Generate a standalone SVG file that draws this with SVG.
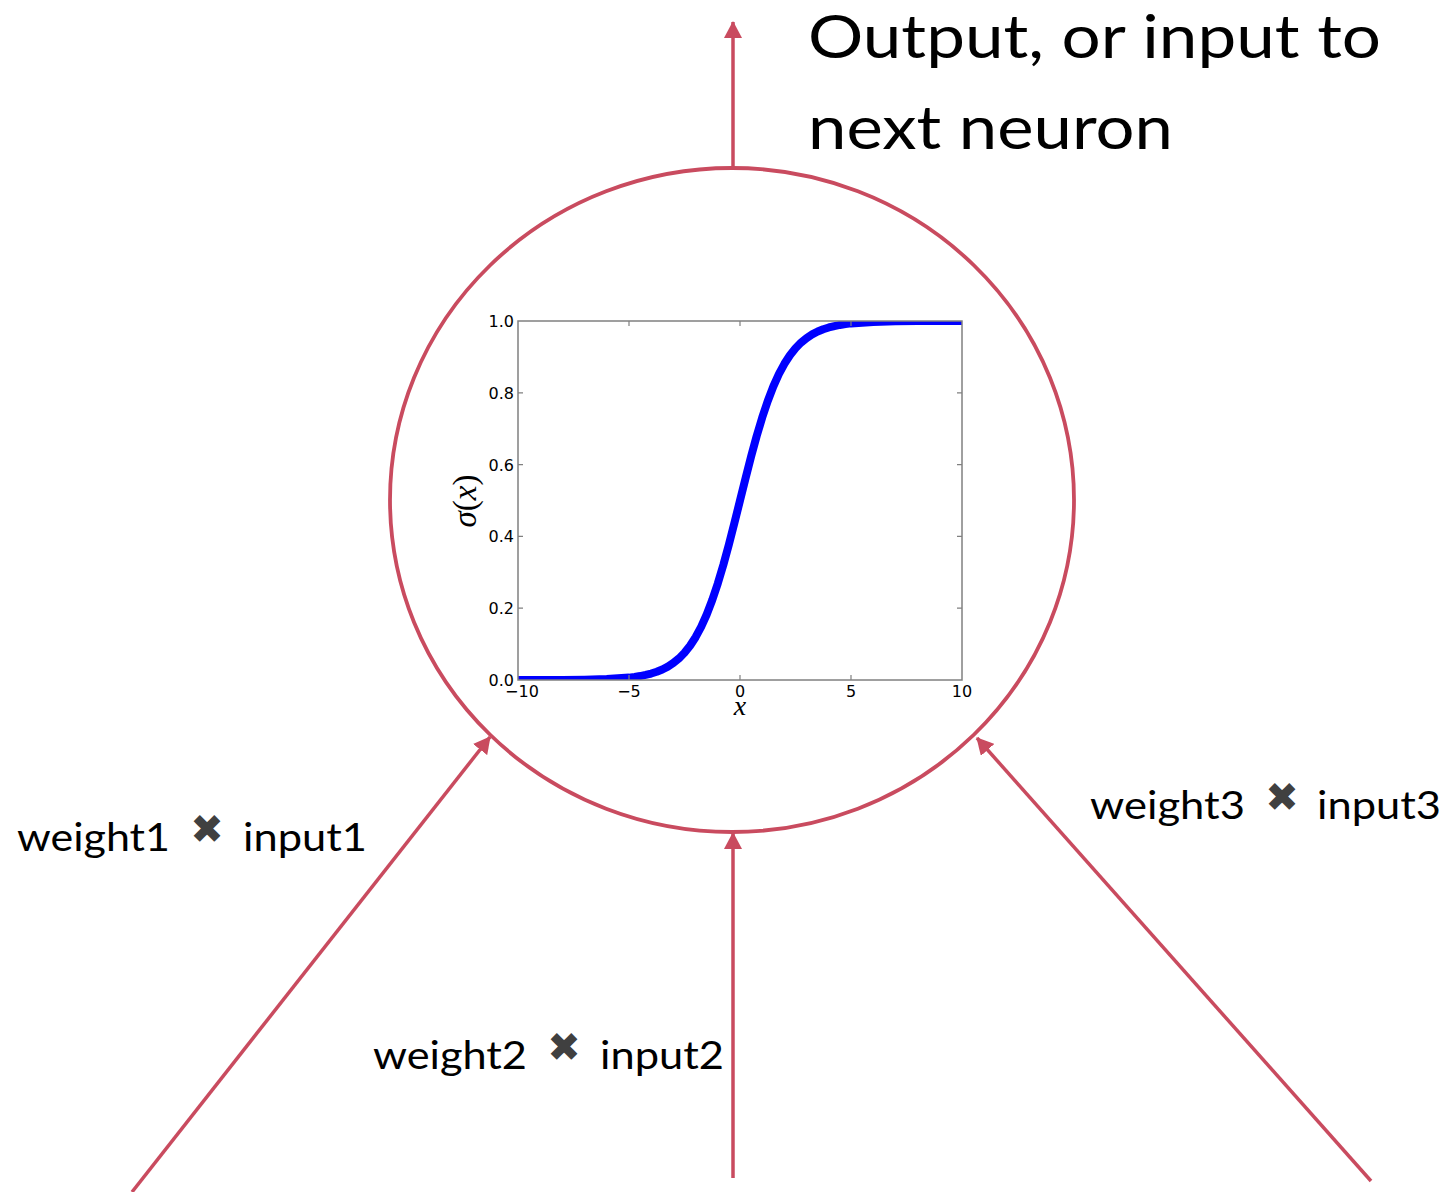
<svg xmlns="http://www.w3.org/2000/svg" width="1451" height="1192" viewBox="0 0 1451 1192">
<style>
.conn{stroke:#C94B5F;stroke-width:3.5;fill:none}
.lbl{font-family:Lato,"Open Sans",sans-serif;fill:#000}
.mul{font-family:"DejaVu Sans",sans-serif;fill:#404040}
.tick{font-family:"DejaVu Sans",sans-serif;font-size:16px;fill:#000}
.math{font-family:"Liberation Serif",serif;fill:#000}
.tk{stroke:#808080;stroke-width:1.2}
</style>
<defs>
<marker id="ah" markerWidth="18" markerHeight="18" refX="16" refY="9" orient="auto" markerUnits="userSpaceOnUse">
<path d="M0,0 L17,9 L0,18 Z" fill="#C94B5F"/>
</marker>
<clipPath id="pc"><rect x="518" y="321" width="444" height="359"/></clipPath>
</defs>
<rect width="1451" height="1192" fill="#fff"/>
<g id="connectors">
<line class="conn" x1="733" y1="168" x2="733" y2="22" marker-end="url(#ah)"/>
<line class="conn" x1="132" y1="1192" x2="490" y2="737" marker-end="url(#ah)"/>
<line class="conn" x1="733" y1="1178" x2="733" y2="833" marker-end="url(#ah)"/>
<line class="conn" x1="1371" y1="1181" x2="977" y2="738" marker-end="url(#ah)"/>
</g>
<g id="neuron">
<ellipse cx="732" cy="500" rx="342" ry="332" fill="none" stroke="#C94B5F" stroke-width="3.8"/>
<g id="plot">
<rect x="518" y="321" width="444" height="359" fill="#fff"/>
<polyline clip-path="url(#pc)" fill="none" stroke="#0000FF" stroke-width="8" stroke-linejoin="round" points="518,679.98 562.4,679.88 584.6,679.67 606.8,679.11 629,677.6 634.55,676.92 640.1,676.06 645.65,674.95 651.2,673.54 656.75,671.75 662.3,669.48 667.85,666.6 673.4,662.97 678.95,658.43 684.5,652.77 690.05,645.77 695.6,637.21 701.15,626.85 706.7,614.51 712.25,600.05 717.8,583.45 723.35,564.83 728.9,544.46 734.45,522.82 740,500.5 745.55,478.18 751.1,456.54 756.65,436.17 762.2,417.55 767.75,400.95 773.3,386.49 778.85,374.15 784.4,363.79 789.95,355.23 795.5,348.23 801.05,342.57 806.6,338.03 812.15,334.4 817.7,331.52 823.25,329.25 828.8,327.46 834.35,326.05 839.9,324.94 845.45,324.08 851,323.4 873.2,321.89 895.4,321.33 917.6,321.12 962,321.02"/>
<rect x="518" y="321" width="444" height="359" fill="none" stroke="#808080" stroke-width="1.5"/>
<path class="tk" d="M629,680v-5M740,680v-5M851,680v-5M629,321v5M740,321v5M851,321v5M518,392.8h5M518,464.6h5M518,536.4h5M518,608.2h5M962,392.8h-5M962,464.6h-5M962,536.4h-5M962,608.2h-5"/>
<g class="tick" text-anchor="end">
<text x="514" y="327">1.0</text>
<text x="514" y="398.8">0.8</text>
<text x="514" y="470.6">0.6</text>
<text x="514" y="542.4">0.4</text>
<text x="514" y="614.2">0.2</text>
<text x="514" y="686">0.0</text>
</g>
<g class="tick" text-anchor="middle">
<text x="522" y="697">−10</text>
<text x="629" y="697">−5</text>
<text x="740" y="697">0</text>
<text x="851" y="697">5</text>
<text x="962" y="697">10</text>
</g>
<text class="math" x="740" y="715" text-anchor="middle" style="font-style:italic;font-size:28px">x</text>
<text class="math" x="0" y="0" text-anchor="middle" style="font-size:33px" transform="translate(476,501) rotate(-90)"><tspan font-style="italic">σ</tspan>(<tspan font-style="italic">x</tspan>)</text>
</g>
</g>
<g id="title">
<text class="lbl" x="808" y="58" font-size="60" textLength="573" lengthAdjust="spacingAndGlyphs">Output, or input to</text>
<text class="lbl" x="808" y="149" font-size="60" textLength="365" lengthAdjust="spacingAndGlyphs">next neuron</text>
</g>
<g id="label1">
<text class="lbl" x="17" y="851" font-size="38" textLength="153" lengthAdjust="spacingAndGlyphs">weight1</text>
<text class="mul" x="207" y="843" font-size="40" text-anchor="middle">✖</text>
<text class="lbl" x="243" y="851" font-size="38" textLength="124" lengthAdjust="spacingAndGlyphs">input1</text>
</g>
<g id="label2">
<text class="lbl" x="373" y="1069" font-size="38" textLength="154" lengthAdjust="spacingAndGlyphs">weight2</text>
<text class="mul" x="564" y="1061" font-size="40" text-anchor="middle">✖</text>
<text class="lbl" x="600" y="1069" font-size="38" textLength="124" lengthAdjust="spacingAndGlyphs">input2</text>
</g>
<g id="label3">
<text class="lbl" x="1090" y="819" font-size="38" textLength="155" lengthAdjust="spacingAndGlyphs">weight3</text>
<text class="mul" x="1282" y="811" font-size="40" text-anchor="middle">✖</text>
<text class="lbl" x="1317" y="819" font-size="38" textLength="124" lengthAdjust="spacingAndGlyphs">input3</text>
</g>
</svg>
